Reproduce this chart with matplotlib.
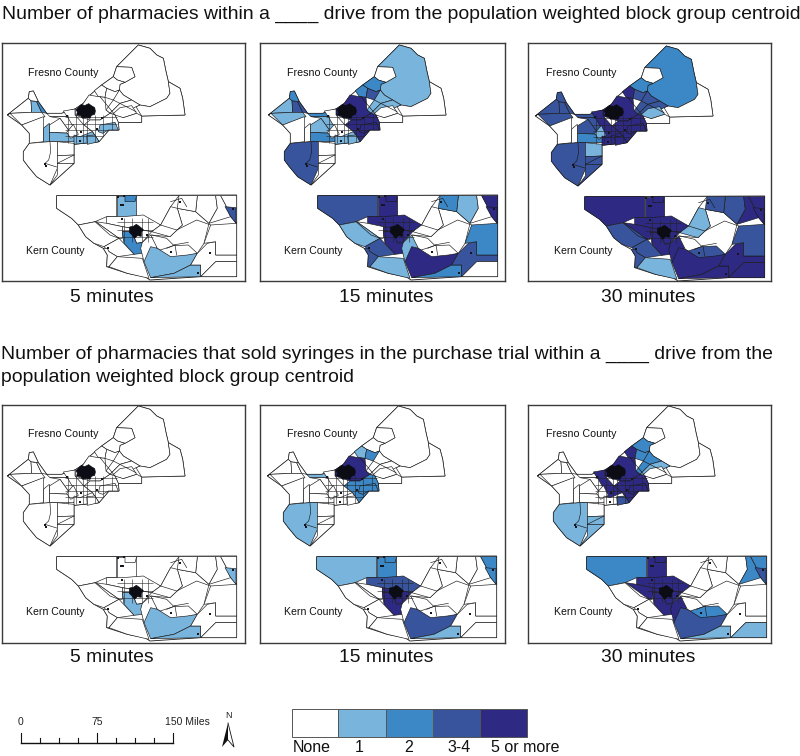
import matplotlib
matplotlib.use('Agg')
import matplotlib.pyplot as plt
from matplotlib.patches import Polygon

plt.rcParams['font.family'] = ['Liberation Sans', 'DejaVu Sans']

# class colours, 0 = none ... 4 = 5 or more
class_colors = ['#FFFFFF', '#79B4DD', '#3C88C6', '#38549C', '#2E2A83']
class_labels = ['None', '1', '2', '3-4', '5 or more']

title_top = 'Number of pharmacies within a ____ drive from the population weighted block group centroid'
title_bottom = ('Number of pharmacies that sold syringes in the purchase trial within a ____ drive from the\n'
                'population weighted block group centroid')
captions = ['5 minutes', '15 minutes', '30 minutes']

# county outlines, map units (3 per pixel)
fresno_outline = [(22,240),(85,190),(88,170),(100,168),(115,200),(140,235),(185,235),(225,222),(250,205),(270,180),
                  (305,150),(340,125),(350,95),(415,30),(450,40),(470,60),(490,70),(498,110),(505,140),(540,160),
                  (548,190),(555,240),(425,243),(425,262),(355,262),(357,285),(327,285),(297,320),(222,328),
                  (222,385),(150,450),(110,425),(85,395),(70,375),(70,350),(88,325),(88,295),(65,270)]
kern_outline = [(170,482),(710,480),(710,725),(602,725),(450,735),(435,725),(382,715),(320,695),(322,660),(310,640),
                (282,625),(257,605),(235,570),(215,550),(170,520)]

# Fresno block groups
f_ne = [(350,95),(415,30),(450,40),(470,60),(490,70),(498,110),(505,140),(510,175),(500,190),(470,205),(450,215),
        (420,210),(395,195),(370,180),(358,165),(360,148),(375,142),(405,125),(395,97)]
f_hole = [(350,95),(395,97),(405,125),(375,142),(352,135),(340,125)]
f_e = [(505,140),(540,160),(548,190),(555,240),(425,243),(408,215),(420,210),(450,215),(470,205),(500,190),(510,175)]
f_n0 = [(305,150),(340,125),(352,135),(375,142),(360,148),(358,165),(345,170),(320,160)]
f_n1 = [(283,167),(305,150),(320,160),(315,187),(295,185)]
f_n2 = [(320,160),(345,170),(358,165),(350,185),(340,195),(315,187)]
f_r1 = [(340,195),(358,165),(370,180),(395,195),(360,205),(330,235),(318,225)]
f_r2 = [(330,235),(360,205),(395,195),(420,210),(408,215),(380,230),(345,240)]
f_r3 = [(335,240),(360,218),(395,212),(410,235),(370,248)]
f_r4 = [(345,240),(370,248),(410,235),(425,243),(425,262),(355,262)]
f_c1 = [(225,222),(250,205),(267,180),(295,185),(315,187),(318,225),(330,235),(300,255),(270,255),(225,240)]
f_c2 = [(270,255),(300,255),(330,235),(345,240),(355,262),(357,285),(327,285),(297,320),(277,290),(252,270)]
f_a = [(300,270),(345,262),(355,285),(325,285),(308,295),(295,290)]
f_w_strip = [(140,235),(185,235),(225,222),(225,245),(150,245)]
f_w2 = [(150,245),(225,245),(235,262),(205,285),(180,250)]
f_w4 = [(180,250),(205,285),(215,295),(148,292),(148,270)]
f_w5 = [(148,292),(215,295),(225,300),(222,320),(148,320)]
f_cw = [(190,228),(225,222),(225,240),(252,270),(277,290),(297,320),(232,326),(228,290),(205,250)]
f_w3 = [(200,292),(220,268),(235,298),(212,310)]
f_w6 = [(130,280),(148,265),(148,320),(130,322)]
f_s1 = [(222,300),(240,305),(277,290),(297,320),(222,328)]
f_s2 = [(260,302),(285,300),(297,320),(262,328)]
f_nw1 = [(22,240),(85,190),(93,197),(95,232),(30,235)]
f_nw2 = [(93,197),(110,200),(125,232),(95,232)]
f_nw3 = [(85,190),(88,170),(100,168),(115,200),(93,197)]
f_nw4 = [(110,200),(115,200),(140,235),(125,232)]
f_w7 = [(30,235),(95,232),(125,232),(135,245),(65,270)]
f_w8 = [(65,270),(130,245),(130,320),(88,325),(88,295)]
f_sw = [(88,325),(148,320),(172,320),(172,400),(150,450),(110,425),(85,395),(70,375),(70,350)]
f_se1 = [(172,320),(222,325),(222,360),(172,362)]
f_se2 = [(172,362),(222,360),(222,385),(172,385)]
f_se3 = [(172,385),(222,385),(150,450),(172,420)]

# Kern block groups
k_nw = [(170,482),(350,482),(350,545),(320,545),(285,560),(235,570),(215,550),(170,520)]
k_n = [(350,482),(410,482),(410,545),(350,545)]
k_n_top = [(375,482),(410,482),(405,500),(375,500)]
k_nc = [(410,482),(537,482),(512,515),(482,570),(410,545)]
k_cn = [(320,545),(367,545),(430,540),(482,570),(455,590),(367,575),(320,565)]
k_tri = [(287,560),(320,565),(367,575),(367,610),(357,610)]
k_cb = [(367,575),(455,590),(427,622),(410,625),(395,590),(367,590)]
k_ca = [(367,590),(395,590),(410,625),(427,622),(427,655),(402,658),(372,625)]
k_sw = [(235,570),(287,560),(357,610),(312,635),(282,625),(257,605)]
k_sw2 = [(312,635),(357,610),(402,658),(352,665),(327,650)]
k_sw3 = [(310,640),(322,640),(327,650),(352,665),(327,695),(320,695),(322,660)]
k_s = [(327,695),(352,665),(427,670),(447,730),(382,715)]
k_lc = [(427,622),(452,600),(472,630),(452,680),(432,680),(422,640)]
k_ce2 = [(547,570),(532,520),(587,530),(627,565),(612,625),(592,655),(562,660),(512,665),(472,640),(452,600),(510,605)]
k_ce1 = [(455,590),(482,570),(512,515),(532,520),(547,570),(510,605)]
k_ce3 = [(475,647),(520,632),(565,630),(592,655),(505,680)]
k_arc = [(432,680),(452,635),(472,640),(512,665),(562,660),(592,655),(572,690),(522,715),(452,728)]
k_se0 = [(452,728),(522,715),(572,690),(602,690),(602,725)]
k_se = [(592,655),(622,625),(647,620),(647,660),(710,660),(710,680),(647,680),(602,725),(602,690),(572,690)]
k_corner = [(602,725),(647,680),(710,680),(710,725)]
k_e = [(632,570),(710,565),(710,660),(647,660),(647,620),(612,625)]
k_ne1 = [(592,482),(647,482),(652,520),(627,565),(587,530)]
k_ne2 = [(647,482),(662,482),(677,510),(692,545),(627,565),(652,520)]
k_ne3 = [(662,482),(710,482),(710,565),(692,545),(677,510)]
k_ne4 = [(675,515),(708,518),(708,565),(692,545)]
k_n2 = [(537,482),(592,482),(587,530),(532,520)]

# region, then its class in: 5, 15, 30 min (all pharmacies), 5, 15, 30 min (sold syringes)
regions = [
    (f_ne, [0,1,2,0,0,0]), (f_hole, [0,0,0,0,0,0]), (f_e, [0,0,0,0,0,0]), (f_n0, [0,2,2,0,0,2]),
    (f_n1, [0,2,4,0,1,4]), (f_n2, [0,3,3,0,2,2]), (f_r1, [0,1,3,0,0,2]), (f_r2, [0,1,3,0,0,1]),
    (f_r3, [0,0,1,0,0,0]), (f_r4, [0,0,0,0,0,0]), (f_c1, [0,4,4,0,4,4]), (f_c2, [0,4,4,0,2,4]),
    (f_a, [1,4,4,0,2,4]), (f_w_strip, [0,2,3,0,1,0]), (f_w2, [0,1,3,0,0,0]),
    (f_w4, [0,1,3,0,0,0]), (f_w5, [1,2,2,0,0,0]), (f_cw, [0,0,4,0,0,4]), (f_w3, [0,0,1,0,0,0]),
    (f_w6, [1,0,0,0,0,0]), (f_s1, [1,1,4,0,0,0]),
    (f_s2, [1,1,4,0,0,3]), (f_nw1, [0,1,3,0,0,0]), (f_nw2, [1,3,3,0,0,0]), (f_nw3, [0,2,3,0,0,0]),
    (f_nw4, [2,3,3,0,0,0]), (f_w7, [0,1,3,0,0,0]), (f_w8, [0,0,0,0,0,0]), (f_sw, [0,3,3,0,1,1]),
    (f_se1, [0,0,1,0,0,0]), (f_se2, [0,0,3,0,0,1]), (f_se3, [0,0,3,0,0,1]),
    (k_nw, [0,3,4,0,1,2]), (k_n, [1,4,4,0,2,4]), (k_n_top, [2,4,4,0,2,4]), (k_nc, [0,0,0,0,0,0]),
    (k_cn, [0,4,4,0,3,4]), (k_tri, [0,0,4,0,0,4]), (k_cb, [0,4,4,0,4,4]), (k_ca, [2,4,4,1,4,4]),
    (k_sw, [0,1,3,0,0,0]), (k_sw2, [0,3,3,0,0,0]), (k_sw3, [0,3,3,0,0,0]), (k_s, [0,1,1,0,0,0]),
    (k_lc, [0,1,4,0,0,4]), (k_ce2, [0,0,0,0,0,0]), (k_ce1, [0,0,1,0,0,0]), (k_ce3, [0,0,3,0,0,2]),
    (k_arc, [1,4,4,1,3,3]), (k_se0, [1,2,4,1,1,1]), (k_se, [0,3,4,0,0,0]), (k_corner, [0,0,4,0,0,1]),
    (k_e, [0,2,3,0,0,0]), (k_ne1, [0,1,3,0,0,0]), (k_ne2, [0,0,4,0,0,2]), (k_ne3, [0,4,4,0,2,2]),
    (k_ne4, [3,4,4,1,2,3]), (k_n2, [0,2,3,0,0,0]),
]

# dense urban tracts and small towns
fresno_city = [(228,224),(236,216),(245,208),(254,212),(266,206),(274,212),(284,218),(286,228),(284,238),(274,241),
               (270,250),(258,247),(248,250),(242,242),(230,240),(232,231)]
bakersfield = [(389,576),(400,574),(409,568),(418,574),(430,584),(424,592),(424,604),(412,602),(404,610),(396,600),(388,592)]
town_x = [135,137,200,243,290,305,240,325,365,362,373,440,355,370,512,540,630,700,595]
town_y = [388,394,242,290,283,248,318,640,553,510,484,600,485,510,650,500,655,522,715]
fresno_grid_x = [205,228,250,262,285,310,335]
fresno_grid_y = [245,268,285,302]
kern_grid_x = [372,395,425,445]
kern_grid_y = [560,585,605]
extra_lines = [
    [(150,322),(152,350),(146,375),(135,385),(170,396)],
    [(172,385),(222,360)],
    [(482,570),(530,585),(590,555),(632,570)],
    [(455,600),(500,610),(520,630),(565,622)],
    [(500,640),(525,630),(530,660)],
    [(285,560),(330,600),(357,610)],
    [(300,185),(345,240)],
    [(340,195),(408,230)],
    [(512,500),(545,490),(560,515)],
]

# frame of each panel in pixels: left, right, top, bottom; then map offset in pixels
frame_left = [2, 260, 528, 2, 260, 528]
frame_right = [245, 505, 771, 245, 505, 771]
frame_top = [43, 43, 43, 405, 405, 405]
frame_bottom = [281, 281, 281, 643, 643, 643]
map_dx = [0, 261, 528, 0, 260, 530]
map_dy = [35, 35, 36, 396, 396, 396]

W, H = 800, 756
fig = plt.figure(figsize=(W/100, H/100), dpi=100)

for p in range(6):
    l, r, t, b = frame_left[p], frame_right[p], frame_top[p], frame_bottom[p]
    ax = fig.add_axes([l/W, 1-b/H, (r-l)/W, (b-t)/H])
    ax.set_xlim((l-map_dx[p])*3, (r-map_dx[p])*3)
    ax.set_ylim((b-map_dy[p])*3, (t-map_dy[p])*3)
    ax.set_xticks([])
    ax.set_yticks([])
    for s in ax.spines.values():
        s.set_linewidth(1.0)
        s.set_color('#3a3a3a')

    clips = []
    for outline in (fresno_outline, kern_outline):
        patch = Polygon(outline, closed=True, fc='white', ec='#1a1a1a', lw=0.6, zorder=1)
        ax.add_patch(patch)
        clips.append(patch)

    for shape, classes in regions:
        ax.add_patch(Polygon(shape, closed=True, fc=class_colors[classes[p]], ec='#1a1a1a', lw=0.45, zorder=2))

    g1 = ax.vlines(fresno_grid_x, 240, 325, color='#222222', lw=0.4, zorder=3)
    g2 = ax.hlines(fresno_grid_y, 195, 350, color='#222222', lw=0.4, zorder=3)
    g1.set_clip_path(clips[0])
    g2.set_clip_path(clips[0])
    g3 = ax.vlines(kern_grid_x, 550, 620, color='#222222', lw=0.4, zorder=3)
    g4 = ax.hlines(kern_grid_y, 350, 460, color='#222222', lw=0.4, zorder=3)
    g3.set_clip_path(clips[1])
    g4.set_clip_path(clips[1])

    for line in extra_lines:
        ax.plot([q[0] for q in line], [q[1] for q in line], color='#1a1a1a', lw=0.45, zorder=3)

    ax.add_patch(Polygon(fresno_city, closed=True, fc='#0c0c14', ec='#0c0c14', lw=0.5, zorder=4))
    ax.add_patch(Polygon(bakersfield, closed=True, fc='#0c0c14', ec='#0c0c14', lw=0.5, zorder=4))
    ax.scatter(town_x, town_y, s=2.5, marker='s', c='#15151f', linewidths=0, zorder=4)

# everything else is placed in pixel coordinates on a clear overlay
ov = fig.add_axes([0, 0, 1, 1], facecolor='none')
ov.set_xlim(0, W)
ov.set_ylim(H, 0)
ov.axis('off')

ov.text(2, 14, title_top, fontsize=13.93, ha='left', va='center', color='#111111')
ov.text(1, 366, title_bottom, fontsize=13.92, ha='left', va='center', color='#111111', linespacing=1.4)

caption_x = [112, 386, 648]
for y in (297, 658):
    for x, c in zip(caption_x, captions):
        ov.text(x, y, c, fontsize=13.9, ha='center', va='center', color='#111111')

fresno_label_x = [63, 322, 581]
kern_label_x = [55, 313, 583]
for i in range(3):
    ov.text(fresno_label_x[i], 73, 'Fresno County', fontsize=7.7, ha='center', va='center', color='#111111')
    ov.text(fresno_label_x[i], 434, 'Fresno County', fontsize=7.7, ha='center', va='center', color='#111111')
    ov.text(kern_label_x[i], 251, 'Kern County', fontsize=7.6, ha='center', va='center', color='#111111')
    ov.text(kern_label_x[i], 612, 'Kern County', fontsize=7.6, ha='center', va='center', color='#111111')

# legend ramp
ramp_edges = [292, 338, 386, 433, 480, 527]
label_x = [312, 359, 409, 459, 525]
for i in range(5):
    ov.bar(ramp_edges[i], 28, width=ramp_edges[i+1]-ramp_edges[i], bottom=709, align='edge',
           color=class_colors[i], edgecolor='#555555', lw=0.7)
    ov.text(label_x[i], 748, class_labels[i], fontsize=11.5, ha='center', va='center', color='#111111')

# scale bar
scale_ticks = [21, 40, 59, 78, 97, 116, 135, 154, 173]
ov.plot([21, 173], [743, 743], color='#111111', lw=1)
for i, x in enumerate(scale_ticks):
    ov.plot([x, x], [733 if i % 4 == 0 else 738, 743], color='#111111', lw=0.8)
ov.text(20, 722, '0', fontsize=7.5, ha='center', va='center', color='#222222')
ov.text(97, 722, '75', fontsize=7.5, ha='center', va='center', color='#222222')
ov.text(165, 722, '150 Miles', fontsize=7.5, ha='left', va='center', color='#222222')

# north arrow
ov.text(228, 716, 'N', fontsize=6.5, ha='center', va='center', color='#222222')
ov.fill([228, 222, 228], [723, 747, 740], color='#111111', lw=0)
ov.plot([228, 234, 228], [723, 747, 740], color='#111111', lw=0.6)

fig.savefig('out.png', dpi=100)
